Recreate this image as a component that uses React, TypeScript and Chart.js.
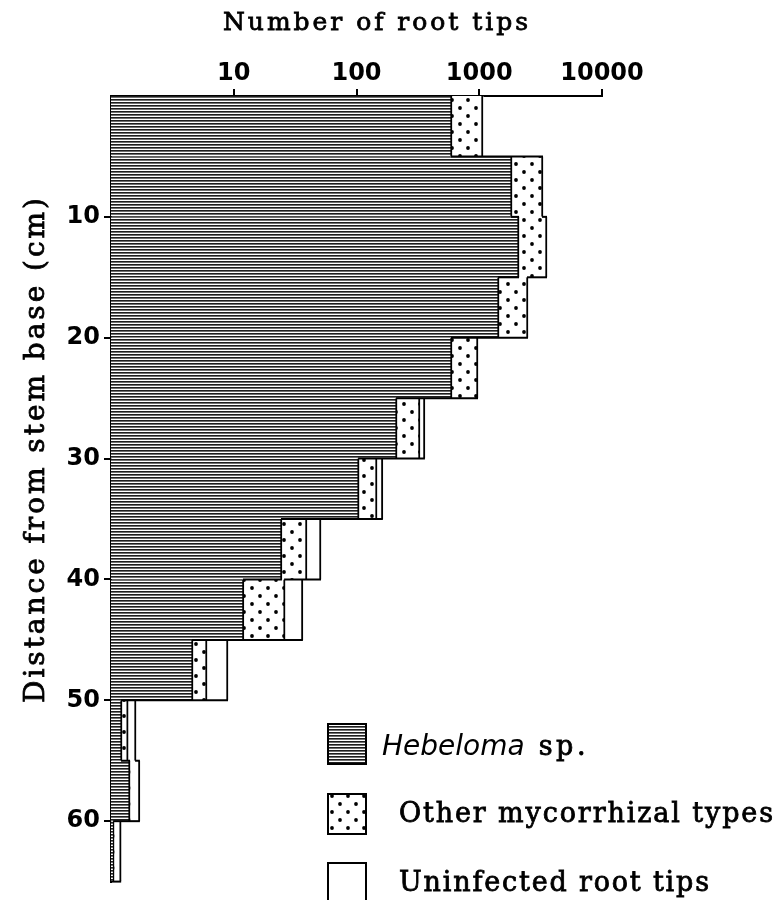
import React, { useEffect, useRef } from 'react';
import { Chart, registerables } from 'chart.js';

Chart.register(...registerables);

// Depth bins (cm from stem base), each 5 cm deep
const depthBinStart = [0, 5, 10, 15, 20, 25, 30, 35, 40, 45, 50, 55, 60];
const binWidth = 5;

// Number of root tips per bin (log axis)
const hebeloma = [600, 1850, 2110, 1450, 600, 214, 105, 24.7, 12.1, 4.66, 1.23, 1.43, 1.06];
const otherTypes = [473, 1456, 1455, 1046, 377, 115, 42, 14.8, 14.1, 1.4, 0.15, 0, 0];
const uninfected = [0, 0, 0, 0, 0, 32, 17, 11.9, 10.4, 2.92, 0.22, 0.29, 0.15];

const xTickValues = [10, 100, 1000, 10000];
const yTickValues = [10, 20, 30, 40, 50, 60];
const xAxisMin = 1;
const xAxisMax = 10000;
const yAxisMax = 65;

const xTitle = 'Number of root tips';
const yTitle = 'Distance from stem base (cm)';
const legendItalic = 'Hebeloma';
const legendSuffix = 'sp.';
const legendOther = 'Other mycorrhizal types';
const legendUninfected = 'Uninfected root tips';

const SERIF = '"DejaVu Serif"';

function makeHatch(ctx: CanvasRenderingContext2D) {
  const c = document.createElement('canvas');
  c.width = 8;
  c.height = 3;
  const g = c.getContext('2d')!;
  g.fillStyle = '#ffffff';
  g.fillRect(0, 0, 8, 3);
  g.fillStyle = '#1e1e1e';
  g.fillRect(0, 0, 8, 1);
  g.fillStyle = '#707070';
  g.fillRect(0, 1, 8, 1);
  return ctx.createPattern(c, 'repeat')!;
}

function makeDots(ctx: CanvasRenderingContext2D) {
  const c = document.createElement('canvas');
  c.width = 16;
  c.height = 16;
  const g = c.getContext('2d')!;
  g.fillStyle = '#ffffff';
  g.fillRect(0, 0, 16, 16);
  g.fillStyle = '#000000';
  for (const [px, py] of [[4, 4], [12, 12]]) {
    g.beginPath();
    g.arc(px, py, 1.9, 0, Math.PI * 2);
    g.fill();
  }
  return ctx.createPattern(c, 'repeat')!;
}

// draw text starting at x (left), spreading letters so the text spans targetWidth
function drawSpread(c: CanvasRenderingContext2D, text: string, x: number, y: number, size: number, targetWidth: number) {
  c.font = `${size}px ${SERIF}`;
  (c as any).letterSpacing = '0px';
  const w = c.measureText(text).width;
  const ls = Math.max(0, (targetWidth - w) / Math.max(1, text.length - 1));
  (c as any).letterSpacing = `${ls}px`;
  c.textAlign = 'left';
  c.fillText(text, x, y);
  c.lineWidth = 0.8;
  c.strokeText(text, x, y);
  (c as any).letterSpacing = '0px';
}

export default function App() {
  const ref = useRef<HTMLCanvasElement>(null);

  useEffect(() => {
    const canvas = ref.current!;
    const ctx = canvas.getContext('2d')!;
    const hatch = makeHatch(ctx);
    const dots = makeDots(ctx);

    const cum = depthBinStart.map((_, i) => {
      const a = hebeloma[i];
      const b = a + otherTypes[i];
      const c = b + uninfected[i];
      return [a, b, c];
    });
    const centers = depthBinStart.map((s) => s + binWidth / 2);

    const outlinePlugin = {
      id: 'stepOutlines',
      afterDatasetsDraw(chart: any) {
        const { ctx: c, scales } = chart;
        const xs = scales.x;
        const ys = scales.y;
        const labelAt = (row: number[] | null, v: number) => {
          if (!row) return 3;
          for (let k = 0; k < 3; k++) if (v < row[k]) return k;
          return 3;
        };
        c.save();
        c.strokeStyle = '#000';
        c.lineWidth = 2;
        c.lineCap = 'butt';
        for (let i = 0; i < depthBinStart.length; i++) {
          const upper = cum[i];
          const lower = i + 1 < cum.length ? cum[i + 1] : null;
          const pts = Array.from(new Set([xAxisMin, ...upper, ...(lower || [])]))
            .filter((v) => v >= xAxisMin)
            .sort((a, b) => a - b);
          const yPix = ys.getPixelForValue(depthBinStart[i] + binWidth);
          let segStart: number | null = null;
          let segEnd: number | null = null;
          const flush = () => {
            if (segStart !== null && segEnd !== null) {
              c.beginPath();
              c.moveTo(xs.getPixelForValue(segStart) - 1, yPix);
              c.lineTo(xs.getPixelForValue(segEnd), yPix);
              c.stroke();
            }
            segStart = null;
            segEnd = null;
          };
          for (let j = 0; j + 1 < pts.length; j++) {
            const a = pts[j];
            const b = pts[j + 1];
            const mid = Math.sqrt(a * b);
            if (labelAt(upper, mid) !== labelAt(lower, mid)) {
              if (segStart === null) segStart = a;
              segEnd = b;
            } else {
              flush();
            }
          }
          flush();
        }
        c.restore();
      },
      afterDraw(chart: any) {
        const c = chart.ctx as CanvasRenderingContext2D;
        c.save();
        c.fillStyle = '#000';
        c.strokeStyle = '#000';
        c.textBaseline = 'alphabetic';
        // X title
        drawSpread(c, xTitle, 223, 30, 25, 305);
        // Y title (rotated)
        c.save();
        c.translate(44, 703);
        c.rotate(-Math.PI / 2);
        drawSpread(c, yTitle, 0, 0, 28, 505);
        c.restore();

        // Legend
        const boxes: [number, CanvasPattern | string][] = [
          [723, hatch],
          [793, dots],
          [862, '#ffffff'],
        ];
        boxes.forEach(([top, fill]) => {
          c.fillStyle = fill as any;
          c.fillRect(327, top, 40, 42);
          c.lineWidth = 2;
          c.strokeRect(328, top + 1, 38, 40);
        });
        c.fillStyle = '#000';
        c.textAlign = 'left';
        c.font = 'italic 28px "DejaVu Sans"';
        c.fillText(legendItalic, 382, 755);
        const w = c.measureText(legendItalic).width;
        drawSpread(c, legendSuffix, 382 + w + 14, 755, 27, 47);
        drawSpread(c, legendOther, 399, 822, 27, 374);
        drawSpread(c, legendUninfected, 399, 891, 27, 310);
        c.restore();
      },
    };

    const tickFont = { family: '"DejaVu Sans"', size: 24, weight: 'bold' as const };

    const chart = new Chart(canvas, {
      type: 'bar',
      data: {
        datasets: [
          {
            label: 'Hebeloma sp.',
            data: centers.map((y, i) => ({ y, x: [xAxisMin, cum[i][0]] })) as any,
            backgroundColor: hatch as any,
            borderColor: '#000',
            borderWidth: { top: 0, bottom: 0, left: 0, right: 2 } as any,
            borderSkipped: false,
          },
          {
            label: 'Other mycorrhizal types',
            data: centers.map((y, i) => ({ y, x: [cum[i][0], cum[i][1]] })) as any,
            backgroundColor: dots as any,
            borderColor: '#000',
            borderWidth: { top: 0, bottom: 0, left: 0, right: 2 } as any,
            borderSkipped: false,
          },
          {
            label: 'Uninfected root tips',
            data: centers.map((y, i) => ({ y, x: [cum[i][1], cum[i][2]] })) as any,
            backgroundColor: '#ffffff',
            borderColor: '#000',
            borderWidth: { top: 0, bottom: 0, left: 0, right: 2 } as any,
            borderSkipped: false,
          },
        ],
      },
      options: {
        indexAxis: 'y',
        responsive: false,
        animation: false,
        layout: { padding: { left: 0, right: 179, top: 0, bottom: 4 } },
        datasets: { bar: { grouped: false, barPercentage: 1, categoryPercentage: 1 } } as any,
        plugins: {
          legend: { display: false },
          tooltip: { enabled: false },
          title: { display: false },
        },
        scales: {
          x: {
            type: 'logarithmic',
            position: 'top',
            min: xAxisMin,
            max: xAxisMax,
            afterBuildTicks: (s: any) => {
              s.ticks = xTickValues.map((v) => ({ value: v }));
            },
            afterFit: (s: any) => {
              s.height = 96;
            },
            ticks: {
              callback: (v: any) => String(v),
              font: tickFont,
              color: '#000',
              padding: 1,
              maxRotation: 0,
              autoSkip: false,
            },
            grid: { drawOnChartArea: false, drawTicks: true, tickLength: 7, color: '#000', lineWidth: 2 },
            border: { display: true, color: '#000', width: 2 },
          },
          y: {
            type: 'linear',
            min: 0,
            max: yAxisMax,
            reverse: true,
            offset: false,
            afterBuildTicks: (s: any) => {
              s.ticks = yTickValues.map((v) => ({ value: v }));
            },
            afterFit: (s: any) => {
              s.width = 111;
            },
            ticks: {
              font: tickFont,
              color: '#000',
              padding: 4,
              autoSkip: false,
            },
            grid: { offset: false, drawOnChartArea: false, drawTicks: true, tickLength: 7, color: '#000', lineWidth: 2 },
            border: { display: true, color: '#000', width: 2 },
          },
        } as any,
      },
      plugins: [outlinePlugin],
    });

    return () => chart.destroy();
  }, []);

  return (
    <div style={{ position: 'fixed', left: 0, top: 0, width: 781, height: 900, background: '#fff' }}>
      <canvas ref={ref} width={781} height={900} style={{ display: 'block', width: 781, height: 900 }} />
    </div>
  );
}
